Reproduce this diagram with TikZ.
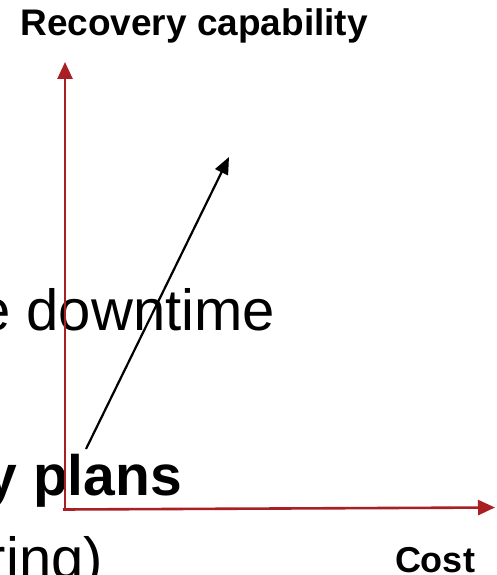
\documentclass[tikz,border=0pt]{standalone}
\usepackage{fontspec}
\setmainfont{Liberation Sans}
\usetikzlibrary{arrows.meta}
\definecolor{axisred}{RGB}{168,32,36}
\tikzset{
  txt/.style={inner sep=0pt, outer sep=0pt, text=black},
  axis/.style={draw=axisred, line width=2.6pt, -{Triangle[width=15pt,length=17pt]}},
  trend/.style={draw=black, line width=2.2pt, -{Triangle[width=14pt,length=17pt]}}
}
\begin{document}
\begin{tikzpicture}[x=1pt,y=-1pt]
\useasboundingbox (0,0) rectangle (496,575);
\clip (0,0) rectangle (496,575);
% texts
\node[txt, anchor=base west, font=\bfseries\fontsize{37}{40}\selectfont] (title) at (20.3,36) {Recovery capability};
\node[txt, anchor=base east, font=\fontsize{58}{62}\selectfont] (down) at (275,330) {e downtime};
\node[txt, anchor=base east, font=\bfseries\fontsize{57}{62}\selectfont] (plans) at (182,495) {y plans};
\node[txt, anchor=base east, font=\fontsize{58}{62}\selectfont] (ring) at (103,578) {ring)};
\node[txt, anchor=base west, font=\bfseries\fontsize{36}{40}\selectfont] (cost) at (395,572) {Cost};
% axes
\coordinate (origin) at (65,510);
\coordinate (ytip) at (65,62);
\coordinate (xstart) at (63,509.5);
\coordinate (xtip) at (495,507.5);
\draw[axis] (origin) -- (ytip);
\draw[axis] (xstart) -- (xtip);
% trend arrow
\coordinate (ta) at (86,449);
\coordinate (tb) at (229,157);
\draw[trend] (ta) -- (tb);
\end{tikzpicture}
\end{document}
